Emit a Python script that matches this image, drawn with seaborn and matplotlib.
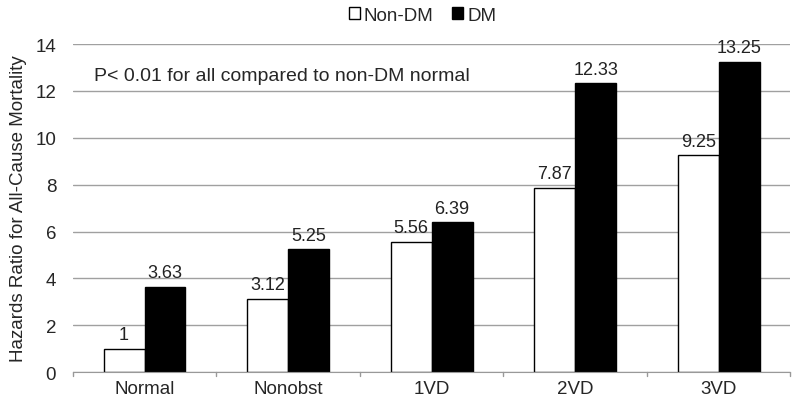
import matplotlib
matplotlib.use('Agg')
import matplotlib.pyplot as plt
import seaborn as sns
import pandas as pd

categories = ['Normal', 'Nonobst', '1VD', '2VD', '3VD']
non_dm = [1, 3.12, 5.56, 7.87, 9.25]
dm = [3.63, 5.25, 6.39, 12.33, 13.25]
groups = ['Non-DM', 'DM']
y_ticks = [0, 2, 4, 6, 8, 10, 12, 14]

df = pd.DataFrame({
    'Category': categories * 2,
    'HR': non_dm + dm,
    'Group': ['Non-DM'] * len(categories) + ['DM'] * len(categories),
})

sns.set_style('white')
plt.rcParams['font.family'] = ['Liberation Sans', 'DejaVu Sans']

fig = plt.figure(figsize=(8, 4.1), dpi=100)
ax = fig.add_axes([0.091, 0.090, 0.897, 0.800])

sns.barplot(data=df, x='Category', y='HR', hue='Group', hue_order=groups,
            palette=['white', 'black'], edgecolor='black', linewidth=1,
            width=0.57, gap=0, ax=ax)

for cont in ax.containers:
    labels = [f'{v:g}' for v in cont.datavalues]
    ax.bar_label(cont, labels=labels, padding=4, fontsize=13, color='#222222')

ax.set_ylim(0, 14)
ax.set_yticks(y_ticks)
ax.set_xlim(-0.5, len(categories) - 0.5)
ax.yaxis.grid(True, color='#a0a0a0', linewidth=1)
ax.set_axisbelow(True)
for s in ['top', 'right', 'left']:
    ax.spines[s].set_visible(False)
ax.spines['bottom'].set_color('#999999')
ax.tick_params(axis='y', length=0, labelsize=13.5, pad=12)
ax.tick_params(axis='x', length=0, labelsize=13.5, pad=6)
for x in [i - 0.5 for i in range(len(categories) + 1)]:
    ax.plot([x, x], [0, -0.18], color='#999999', lw=1, clip_on=False)

ax.set_xlabel('')
ax.set_ylabel('Hazards Ratio for All-Cause Mortality', fontsize=13.5, labelpad=6)
ax.text(0.03, 0.905, 'P< 0.01 for all compared to non-DM normal',
        transform=ax.transAxes, fontsize=14, va='center')

ax.legend(loc='lower center', bbox_to_anchor=(0.487, 1.01), ncol=2,
          frameon=False, fontsize=13.5, handlelength=0.6, handleheight=0.6,
          handletextpad=0.2, columnspacing=1.0)

fig.savefig('out.png', dpi=100)
